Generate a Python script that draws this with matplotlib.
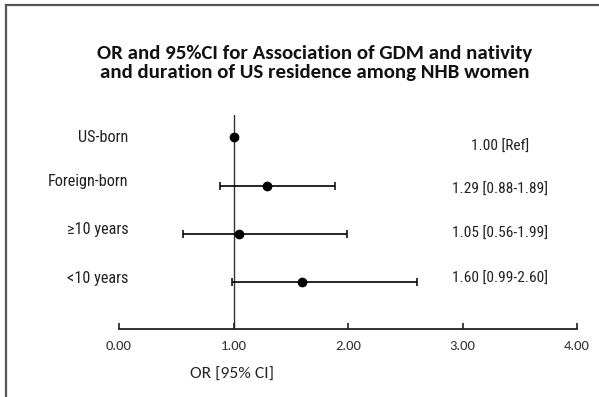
import matplotlib
matplotlib.use("Agg")
import matplotlib.pyplot as plt
from matplotlib.lines import Line2D
import matplotlib.transforms as mtransforms

categories = ["US-born", "Foreign-born", "\u226510 years", "<10 years"]
odds_ratio = [1.00, 1.29, 1.05, 1.60]
ci_low = [1.00, 0.88, 0.56, 0.99]
ci_high = [1.00, 1.89, 1.99, 2.60]
or_labels = ["1.00 [Ref]", "1.29 [0.88-1.89]", "1.05 [0.56-1.99]", "1.60 [0.99-2.60]"]
xticks = [0, 1, 2, 3, 4]
xtick_labels = ["0.00", "1.00", "2.00", "3.00", "4.00"]
title = "OR and 95%CI for Association of GDM and nativity\nand duration of US residence among NHB women"
xlabel = "OR [95% CI]"

W, H = 599, 397
fig = plt.figure(figsize=(W / 100, H / 100), dpi=100)
fig.patch.set_facecolor("white")

# frame (top and left border visible)
fig.add_artist(Line2D([6 / W, 1], [1 - 5 / H, 1 - 5 / H], color="#555555", lw=1.6,
                      transform=fig.transFigure))
fig.add_artist(Line2D([6 / W, 6 / W], [0, 1 - 5 / H], color="#555555", lw=1.6,
                      transform=fig.transFigure))

ax = fig.add_axes([119 / W, 1 - 329 / H, 458 / W, (329 - 115) / H])
ax.set_xlim(0, 4)
ax.set_ylim(0.03, 4.46)

n = len(categories)
ypos = [n - i for i in range(n)]

xerr_lo = [o - l for o, l in zip(odds_ratio, ci_low)]
xerr_hi = [h - o for o, h in zip(odds_ratio, ci_high)]
ax.errorbar(odds_ratio, ypos, xerr=[xerr_lo, xerr_hi], fmt="o", color="black",
            ecolor="black", elinewidth=1.2, capsize=3, capthick=1.1,
            markersize=6, zorder=3)

ax.axvline(1, color="#333333", lw=1.0, zorder=1)

for s in ["top", "right", "left"]:
    ax.spines[s].set_visible(False)
ax.spines["bottom"].set_linewidth(1.3)
ax.spines["bottom"].set_color("#222222")
ax.set_yticks([])
ax.set_xticks(xticks)
ax.set_xticklabels(xtick_labels, fontfamily=["Carlito", "DejaVu Sans"], fontsize=10.5, color="#333333")
ax.tick_params(axis="x", direction="in", length=4, width=1.2, pad=8, color="#222222")

label_font = ["Roboto Condensed", "DejaVu Sans"]
for i, (cat, y) in enumerate(zip(categories, ypos)):
    off = mtransforms.offset_copy(ax.transData, fig=fig, x=0, y=4 if i else 0, units="dots")
    ax.text(0.08, y, cat, transform=off, ha="right", va="center",
            fontfamily=label_font, fontsize=11.7, color="#222222")

txt_offsets = [-10, -4, 0, 3]
for lab, y, dy in zip(or_labels, ypos, txt_offsets):
    off = mtransforms.offset_copy(ax.transData, fig=fig, x=0, y=dy, units="dots")
    ax.text(3.33, y, lab, transform=off, ha="center", va="center",
            fontfamily=label_font, fontsize=11.1, color="#222222")

fig.text(232 / W, 1 - 375 / H, xlabel, ha="center", va="center",
         fontfamily=["Carlito", "DejaVu Sans"], fontsize=12.6, color="#222222")
fig.text(315 / W, 1 - 63 / H, title, ha="center", va="center",
         fontfamily=["Carlito", "DejaVu Sans"], fontweight="bold", fontsize=15, color="#111111",
         linespacing=1.08)

fig.savefig("out.png", dpi=100)
